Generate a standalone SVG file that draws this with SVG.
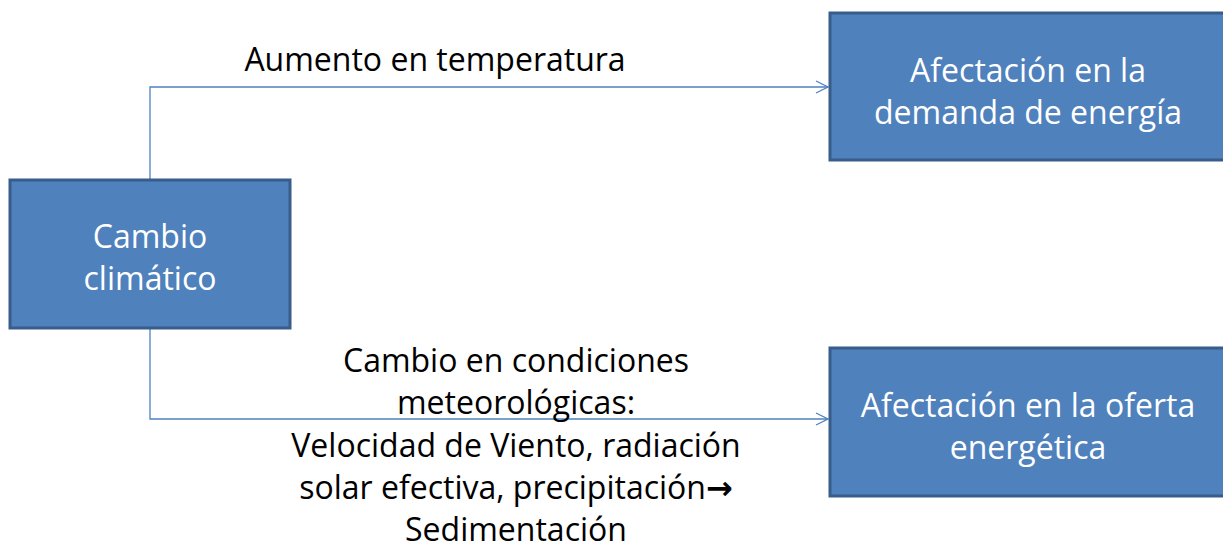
<svg xmlns="http://www.w3.org/2000/svg" width="1223" height="551" viewBox="0 0 1223 551">
<style>
.box{fill:#4f81bd;stroke:#385d8a;stroke-width:3}
.bt{font-family:"Open Sans","Liberation Sans",sans-serif;font-size:32px;fill:#ffffff;text-anchor:middle}
.lt{font-family:"Open Sans","Liberation Sans",sans-serif;font-size:32px;fill:#000000;text-anchor:middle}
.ar{font-family:"DejaVu Sans",sans-serif;font-size:32px;font-weight:bold}
.con{fill:none;stroke:#4f81bd;stroke-width:1.3}
</style>
<defs>
<marker id="arr" markerWidth="14" markerHeight="14" refX="13" refY="7" orient="auto" markerUnits="userSpaceOnUse">
<path d="M1,1 L13,7 L1,13" fill="none" stroke="#4f81bd" stroke-width="1.3"/>
</marker>
</defs>
<rect width="1223" height="551" fill="#ffffff"/>
<g id="connectors">
<path class="con" d="M150,179 V87 H828" marker-end="url(#arr)"/>
<path class="con" d="M150,329 V419 H828" marker-end="url(#arr)"/>
</g>
<g id="cambio">
<rect class="box" x="10" y="180" width="280" height="148"/>
<text class="bt" x="150" y="248">Cambio</text>
<text class="bt" x="150" y="290">climático</text>
</g>
<g id="demanda">
<rect class="box" x="830" y="13" width="400" height="147"/>
<text class="bt" x="1028" y="82">Afectación en la</text>
<text class="bt" x="1028" y="124">demanda de energía</text>
</g>
<g id="oferta">
<rect class="box" x="830" y="348" width="400" height="148"/>
<text class="bt" x="1028" y="417">Afectación en la oferta</text>
<text class="bt" x="1028" y="459">energética</text>
</g>
<g id="labels">
<text class="lt" x="435" y="71">Aumento en temperatura</text>
<text class="lt" x="516" y="372">Cambio en condiciones</text>
<text class="lt" x="516" y="414">meteorológicas:</text>
<text class="lt" x="516" y="457">Velocidad de Viento, radiación</text>
<text class="lt" x="516" y="499">solar efectiva, precipitación<tspan class="ar">→</tspan></text>
<text class="lt" x="516" y="541">Sedimentación</text>
</g>
</svg>
